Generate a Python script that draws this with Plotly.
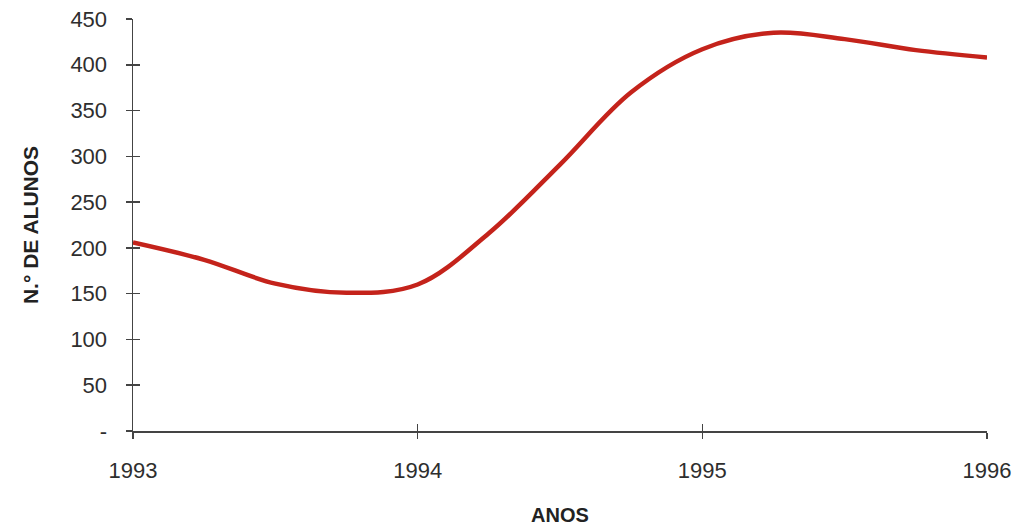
import plotly.graph_objects as go

anos = [1993.0, 1993.25, 1993.5, 1993.75, 1994.0, 1994.25, 1994.5,
        1994.75, 1995.0, 1995.25, 1995.5, 1995.75, 1996.0]
alunos = [206, 187, 161, 151, 160, 216, 291, 370, 417, 435, 428, 416, 408]

x_ticks = [1993, 1994, 1995, 1996]
x_labels = ["1993", "1994", "1995", "1996"]
y_ticks = [0, 50, 100, 150, 200, 250, 300, 350, 400, 450]
y_labels = ["-", "50", "100", "150", "200", "250", "300", "350", "400", "450"]

axis_col = "#444444"
text_col = "#2e2e2e"
font_fam = "Liberation Sans, Arial, sans-serif"

fig = go.Figure()
fig.add_trace(go.Scatter(
    x=anos, y=alunos, mode="lines",
    line=dict(color="#C4231B", width=4.5, shape="spline", smoothing=1.0),
    hoverinfo="skip", showlegend=False,
))
# invisible trace for overlay axes (inside tick halves)
fig.add_trace(go.Scatter(
    x=anos, y=alunos, mode="lines", xaxis="x2", yaxis="y2",
    line=dict(color="rgba(0,0,0,0)", width=0),
    hoverinfo="skip", showlegend=False,
))

fig.update_layout(
    width=1016, height=529,
    margin=dict(l=133, r=29, t=19, b=98),
    paper_bgcolor="white", plot_bgcolor="white",
    font=dict(family=font_fam, color=text_col, size=22),
    xaxis=dict(
        range=[1993, 1996], tickvals=x_ticks, ticktext=x_labels,
        showgrid=False, zeroline=False, showline=True, linecolor=axis_col,
        linewidth=1.5, ticks="outside", ticklen=6, tickwidth=1.5,
        tickcolor=axis_col, ticklabelstandoff=13, automargin=False,
        ticklabeloverflow="allow",
        title=dict(text="<b>ANOS</b>", font=dict(size=20, color="#222222"),
                   standoff=26),
    ),
    yaxis=dict(
        range=[0, 450], tickvals=y_ticks, ticktext=y_labels,
        showgrid=False, zeroline=False, showline=True, linecolor=axis_col,
        linewidth=1.5, ticks="outside", ticklen=6, tickwidth=1.5,
        tickcolor=axis_col, ticklabelstandoff=14, automargin=False,
        ticklabeloverflow="allow",
        title=dict(text="<b>N.° DE ALUNOS</b>", font=dict(size=21, color="#222222"),
                   standoff=26),
    ),
    xaxis2=dict(
        range=[1993, 1996], tickvals=x_ticks, overlaying="x",
        showgrid=False, zeroline=False, showline=False, showticklabels=False,
        ticks="inside", ticklen=7, tickwidth=1.5, tickcolor=axis_col,
    ),
    yaxis2=dict(
        range=[0, 450], tickvals=y_ticks, overlaying="y",
        showgrid=False, zeroline=False, showline=False, showticklabels=False,
        ticks="inside", ticklen=7, tickwidth=1.5, tickcolor=axis_col,
    ),
)

fig.write_html(
    "out.html",
    config={"displayModeBar": False, "staticPlot": True},
    post_script="document.body.style.margin='0';document.body.style.overflow='hidden';",
)
